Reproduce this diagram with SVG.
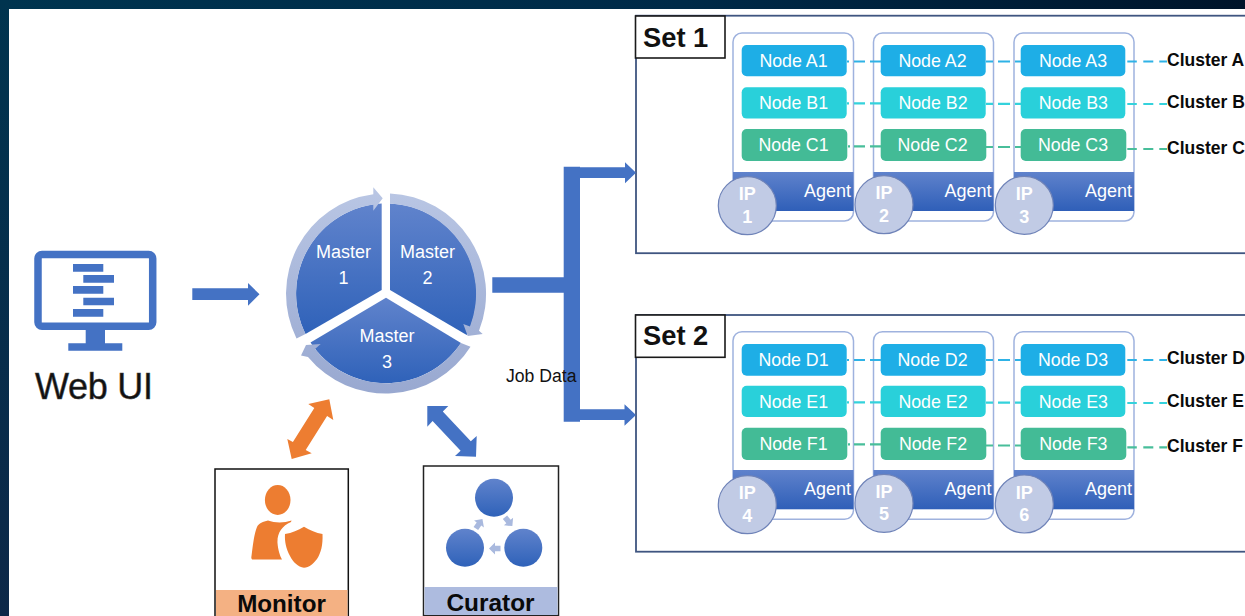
<svg xmlns="http://www.w3.org/2000/svg" width="1245" height="616" viewBox="0 0 1245 616">
<style>
text{font-family:"Liberation Sans",Arial,sans-serif}
.set{fill:none;stroke:#3f5580;stroke-width:1.8}
.lab{fill:#fff;stroke:#1a1a1a;stroke-width:1.6}
.setT{font-size:27.3px;font-weight:700;fill:#111}
.card{fill:#fff;stroke:#9fb2de;stroke-width:1.5}
.nA{fill:#1eaee6}.nB{fill:#29d0da}.nC{fill:#43bb96}
.nT{font-size:17.8px;fill:#fff;text-anchor:middle}
.ag{font-size:18px;fill:#fff;text-anchor:end}
.ip{fill:#c1cbe5;stroke:#6f83b8;stroke-width:1.2}
.ipT{font-size:18px;font-weight:700;fill:#fff;text-anchor:middle}
.dA,.dB,.dC{fill:none;stroke-width:2.2}
.dA{stroke:#2eb2e6}.dB{stroke:#34d2dc}.dC{stroke:#48be9a}
.cl{font-size:17.5px;font-weight:700;fill:#0a0a0a}
.mT{font-size:18px;fill:#fff;text-anchor:middle}
.blue{fill:#4472c4}
.sm{fill:#a9b9de}
</style>
<defs>
<linearGradient id="bg" x1="0" y1="0" x2="1" y2="0"><stop offset="0" stop-color="#00344f"/><stop offset=".55" stop-color="#002a48"/><stop offset="1" stop-color="#00142a"/></linearGradient>
<linearGradient id="side" x1="0" y1="0" x2="0" y2="1"><stop offset="0" stop-color="#00344f"/><stop offset="1" stop-color="#0d2848"/></linearGradient>
<linearGradient id="g" x1="0" y1="0" x2="0" y2="1"><stop offset="0" stop-color="#6083cc"/><stop offset="1" stop-color="#2f62b9"/></linearGradient>
<linearGradient id="ring" gradientUnits="userSpaceOnUse" x1="0" y1="190" x2="0" y2="396"><stop offset="0" stop-color="#b9c6e4"/><stop offset="1" stop-color="#98a8d0"/></linearGradient>
<linearGradient id="band" x1="0" y1="0" x2="0" y2="1"><stop offset="0" stop-color="#5f82cc"/><stop offset="1" stop-color="#2f5fb8"/></linearGradient>
<path id="mini" d="M-5.500 -2.800H0V-6L6 0 0 6V2.800H-5.500Z"/>
</defs>
<rect width="1245" height="616" fill="url(#bg)"/>
<rect width="9" height="616" fill="url(#side)"/>
<rect x="9" y="9" width="1236" height="607" fill="#fff"/>

<g id="webui">
<rect x="38" y="254.500" width="114.700" height="71.800" rx="4" fill="none" stroke="#4472c4" stroke-width="7.500"/>
<path class="blue" d="M85.700 328H105V343.300H122.300V350.700H68.300V343.300H85.700Z"/>
<path class="blue" d="M73 264H103.300V271.700H73ZM83.300 275H114V282.700H83.300ZM73 286H103.300V293.700H73ZM83.300 297.700H114V305.300H83.300ZM73 309H103.300V316.700H73Z"/>
<text x="35" y="399" font-size="36" fill="#111" stroke="#444" stroke-width=".5" textLength="118">Web UI</text>
</g>

<g id="masters">
<path fill="url(#g)" d="M381.700 290V203.600A90.300 90.300 0 0 0 305.500 334Z"/>
<path fill="url(#g)" d="M390 290V203.600A90.300 90.300 0 0 1 466.700 335Z"/>
<path fill="url(#g)" d="M386 297.700 310.500 342.600A90.300 90.300 0 0 0 461 343Z"/>
<path fill="url(#ring)" d="M296.500 338.500A100.500 100.500 0 0 1 373.300 194.200V187.300L382.700 198.300 373.300 210.700V204.500A90.300 90.300 0 0 0 305.500 334Z"/>
<path fill="url(#ring)" d="M390 193.400A100.500 100.500 0 0 1 479 330.800L482.700 334 467.700 336 463.300 324 470 326.400A90.300 90.300 0 0 0 390 203.600Z"/>
<path fill="url(#ring)" d="M470.500 346.700A100.500 100.500 0 0 1 308 357L301 355.500 306 345 320.700 344 315 349A90.300 90.300 0 0 0 461 343Z"/>
<text class="mT" x="343.500" y="257.500">Master</text><text class="mT" x="343.500" y="283.500">1</text>
<text class="mT" x="427.500" y="257.500">Master</text><text class="mT" x="427.500" y="283.500">2</text>
<text class="mT" x="387" y="341.700">Master</text><text class="mT" x="387" y="367.700">3</text>
</g>

<g id="monitor">
<rect x="215" y="469" width="133.300" height="150" fill="#fff" stroke="#111" stroke-width="1.500"/>
<rect x="216" y="590" width="131.500" height="26" fill="#f4b183"/>
<ellipse cx="277.700" cy="500" rx="12.800" ry="15" fill="#ed7d31"/>
<path fill="#ed7d31" d="M268 520.500C275 523 284 523 291.500 520.500L291 522C282 526 277 533 277.500 543 278 550 280 556 282 559.500H253C251.500 559.500 251 558 251.500 556 253 545 254 534 257 527 259 523 263 521.500 268 520.500Z"/>
<path fill="#ed7d31" d="M285 534C292 533 298 530 304 526.700 310 530 316 533 322.500 534 323 545 321 553 317 559 313 564 309 567.500 304 567.700 298 567 293 562 290 556 286 549 284.500 541 285 534Z"/>
<text x="281.500" y="612" font-size="24.200" font-weight="700" fill="#0a0a0a" text-anchor="middle">Monitor</text>
</g>

<g id="curator">
<rect x="423.500" y="466" width="135" height="149.500" fill="#fff" stroke="#222" stroke-width="1.500"/>
<rect x="424.500" y="587" width="133" height="28" fill="#adbbdf"/>
<circle cx="494" cy="497.700" r="19" fill="url(#g)"/>
<circle cx="465" cy="547.700" r="19" fill="url(#g)"/>
<circle cx="523.300" cy="547.700" r="19" fill="url(#g)"/>
<use class="sm" href="#mini" transform="translate(479 524) rotate(-55)"/>
<use class="sm" href="#mini" transform="translate(508.500 521.500) rotate(50)"/>
<use class="sm" href="#mini" transform="translate(495 548.500) rotate(180)"/>
<text x="490.500" y="611" font-size="24.400" font-weight="700" fill="#0a0a0a" text-anchor="middle">Curator</text>
</g>

<g id="set1">
<rect class="set" x="636" y="15.700" width="640" height="237.500"/>
<rect class="lab" x="635.500" y="16" width="89.500" height="42"/>
<text class="setT" x="643" y="46.700">Set 1</text>
</g>
<g id="set2">
<rect class="set" x="636" y="315" width="640" height="236.700"/>
<rect class="lab" x="635.500" y="315" width="89.500" height="42.300"/>
<text class="setT" x="643" y="345">Set 2</text>
</g>

<g id="host1">
<rect class="card" x="733" y="33" width="120.500" height="188" rx="9"/>
<rect x="733" y="172" width="120.500" height="39" fill="url(#band)"/>
<rect class="nA" x="741.700" y="45" width="105" height="31.300" rx="5"/><text class="nT" x="793.500" y="66.700">Node A1</text>
<rect class="nB" x="741.700" y="87.300" width="105" height="31.300" rx="5"/><text class="nT" x="793.500" y="109">Node B1</text>
<rect class="nC" x="741.700" y="129" width="105.600" height="32" rx="5"/><text class="nT" x="793.500" y="150.700">Node C1</text>
<text class="ag" x="851" y="196.700">Agent</text>
<circle class="ip" cx="747.300" cy="205.700" r="29"/><text class="ipT" x="747.300" y="200">IP</text><text class="ipT" x="747.300" y="222.700">1</text>
</g>
<g id="host2">
<rect class="card" x="873.500" y="33" width="120" height="188" rx="9"/>
<rect x="873.500" y="172" width="120" height="39" fill="url(#band)"/>
<rect class="nA" x="880.700" y="45" width="105" height="31.300" rx="5"/><text class="nT" x="932.500" y="66.700">Node A2</text>
<rect class="nB" x="880.700" y="87.300" width="105" height="31.300" rx="5"/><text class="nT" x="933" y="109">Node B2</text>
<rect class="nC" x="880.700" y="129" width="105.600" height="32" rx="5"/><text class="nT" x="932.500" y="150.700">Node C2</text>
<text class="ag" x="991.500" y="196.700">Agent</text>
<circle class="ip" cx="884" cy="204.700" r="29"/><text class="ipT" x="884" y="199.300">IP</text><text class="ipT" x="884" y="221.700">2</text>
</g>
<g id="host3">
<rect class="card" x="1014" y="33" width="120" height="188" rx="9"/>
<rect x="1014" y="172" width="120" height="39" fill="url(#band)"/>
<rect class="nA" x="1020.700" y="45" width="104.600" height="31.300" rx="5"/><text class="nT" x="1073" y="66.700">Node A3</text>
<rect class="nB" x="1020.700" y="87.300" width="104.600" height="31.300" rx="5"/><text class="nT" x="1073.300" y="109">Node B3</text>
<rect class="nC" x="1020.700" y="129" width="105.600" height="32" rx="5"/><text class="nT" x="1073" y="150.700">Node C3</text>
<text class="ag" x="1132" y="196.700">Agent</text>
<circle class="ip" cx="1024.300" cy="205.300" r="29"/><text class="ipT" x="1024.300" y="200">IP</text><text class="ipT" x="1024.300" y="222.700">3</text>
</g>
<g id="host4">
<rect class="card" x="733" y="331.700" width="120.500" height="187.600" rx="9"/>
<rect x="733" y="470" width="120.500" height="39.300" fill="url(#band)"/>
<rect class="nA" x="741.700" y="344" width="105" height="31.700" rx="5"/><text class="nT" x="793.500" y="366">Node D1</text>
<rect class="nB" x="741.700" y="385.700" width="105" height="31.300" rx="5"/><text class="nT" x="793.500" y="407.700">Node E1</text>
<rect class="nC" x="741.700" y="427.700" width="105.600" height="32.300" rx="5"/><text class="nT" x="793.500" y="449.700">Node F1</text>
<text class="ag" x="851" y="495">Agent</text>
<circle class="ip" cx="747.300" cy="504.700" r="29"/><text class="ipT" x="747.300" y="499">IP</text><text class="ipT" x="747.300" y="522">4</text>
</g>
<g id="host5">
<rect class="card" x="873.500" y="331.700" width="120" height="187.600" rx="9"/>
<rect x="873.500" y="470" width="120" height="39.300" fill="url(#band)"/>
<rect class="nA" x="880.700" y="344" width="105" height="31.700" rx="5"/><text class="nT" x="932.500" y="366">Node D2</text>
<rect class="nB" x="880.700" y="385.700" width="105" height="31.300" rx="5"/><text class="nT" x="933" y="407.700">Node E2</text>
<rect class="nC" x="880.700" y="427.700" width="105.600" height="32.300" rx="5"/><text class="nT" x="933" y="449.700">Node F2</text>
<text class="ag" x="991.500" y="495">Agent</text>
<circle class="ip" cx="884" cy="503.300" r="29"/><text class="ipT" x="884" y="497.700">IP</text><text class="ipT" x="884" y="520">5</text>
</g>
<g id="host6">
<rect class="card" x="1014" y="331.700" width="120" height="187.600" rx="9"/>
<rect x="1014" y="470" width="120" height="39.300" fill="url(#band)"/>
<rect class="nA" x="1020.700" y="344" width="104.600" height="31.700" rx="5"/><text class="nT" x="1073" y="366">Node D3</text>
<rect class="nB" x="1020.700" y="385.700" width="104.600" height="31.300" rx="5"/><text class="nT" x="1073.300" y="407.700">Node E3</text>
<rect class="nC" x="1020.700" y="427.700" width="105.600" height="32.300" rx="5"/><text class="nT" x="1073.300" y="449.700">Node F3</text>
<text class="ag" x="1132" y="495">Agent</text>
<circle class="ip" cx="1024.300" cy="504" r="29"/><text class="ipT" x="1024.300" y="498.500">IP</text><text class="ipT" x="1024.300" y="521">6</text>
</g>

<g id="connectors">
<path class="blue" d="M192.300 288.300H248V283L259.500 294.300 248 305.700V300H192.300Z"/>
<path class="blue" d="M492.300 277.300H563.700V166.800H580V167.300H625V162.300L636 172.700 625 183.300V178H580V409.300H624.500V404.300L636 415 624.500 425.700V420H580V421.700H563.700V292.700H492.300Z"/>
<path fill="#ed7d31" d="M329.300 399.300 333.300 420 327.100 416 305.700 450 311.700 453.300 291.700 459 287.300 439 292.900 442 314.300 408 308.300 404Z"/>
<path class="blue" d="M427.300 406H448.300L442.800 411.500 470.800 441.200 476.700 436 476 456.700 455 456 460.600 450.800 432.600 421.100 427.300 426.700Z"/>
<g class="dA"><path d="M847 61.500H881" stroke-dasharray="2 5 11 5 11"/><path d="M986 61.500H1021" stroke-dasharray="7 5 12 5 6"/><path d="M1127.300 61.500H1167" stroke-dasharray="9.500 6.500 10 6 8"/>
<path d="M847 360H881" stroke-dasharray="2 5 11 5 11"/><path d="M986 360H1021" stroke-dasharray="7 5 12 5 6"/><path d="M1127.300 360H1167" stroke-dasharray="9.500 6.500 10 6 8"/></g>
<g class="dB"><path d="M847 103.300H881" stroke-dasharray="2 5 11 5 11"/><path d="M986 103.800H1021" stroke-dasharray="7 5 12 5 6"/><path d="M1127.300 104H1167" stroke-dasharray="9.500 6.500 10 6 8"/>
<path d="M847 402.300H881" stroke-dasharray="2 5 11 5 11"/><path d="M986 402.700H1021" stroke-dasharray="7 5 12 5 6"/><path d="M1127.300 403H1167" stroke-dasharray="9.500 6.500 10 6 8"/></g>
<g class="dC"><path d="M848 146.300H881" stroke-dasharray="2 4 11 5 11"/><path d="M986 147H1021" stroke-dasharray="7 5 12 5 6"/><path d="M1127.300 149H1167" stroke-dasharray="9.500 6.500 10 6 8"/>
<path d="M848 444.300H881" stroke-dasharray="2 4 11 5 11"/><path d="M986 445.500H1021" stroke-dasharray="7 5 12 5 6"/><path d="M1127.300 447.300H1167" stroke-dasharray="9.500 6.500 10 6 8"/></g>
</g>

<text id="jobdata" x="506" y="381.700" font-size="17.600" fill="#111">Job Data</text>

<g id="clusters">
<text class="cl" x="1167" y="66">Cluster A</text>
<text class="cl" x="1167" y="108">Cluster B</text>
<text class="cl" x="1167" y="154">Cluster C</text>
<text class="cl" x="1167" y="364.300">Cluster D</text>
<text class="cl" x="1167" y="406.700">Cluster E</text>
<text class="cl" x="1167" y="452.300">Cluster F</text>
</g>
</svg>
